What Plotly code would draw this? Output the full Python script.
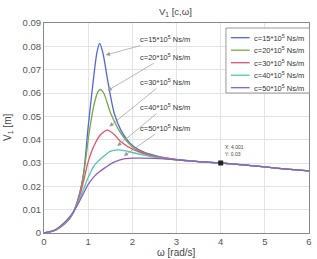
import plotly.graph_objects as go

# ---------------- data ----------------
labels = ["c=15*10<sup>5</sup> Ns/m", "c=20*10<sup>5</sup> Ns/m", "c=30*10<sup>5</sup> Ns/m",
          "c=40*10<sup>5</sup> Ns/m", "c=50*10<sup>5</sup> Ns/m"]
colors = ["#5466d6", "#74aa48", "#e8506a", "#4fc8b2", "#8b5fc6"]

w_c15 = [0, 0.25, 0.5, 0.65, 0.8, 0.9, 1.0, 1.1, 1.2, 1.26, 1.33, 1.44, 1.59, 1.74, 1.9, 2.04, 2.25, 2.48, 2.75, 3.0, 3.5, 4.0, 4.5, 5.0, 5.5, 6.0]
v_c15 = [0, 0.0011, 0.0045, 0.0082, 0.0165, 0.026, 0.0455, 0.0627, 0.0775, 0.0813, 0.0775, 0.0656, 0.0513, 0.0441, 0.0395, 0.0370, 0.0348, 0.0334, 0.0322, 0.0314, 0.0306, 0.0300, 0.0292, 0.0283, 0.0274, 0.0266]

w_c20 = [0, 0.25, 0.5, 0.65, 0.8, 0.9, 1.03, 1.14, 1.22, 1.27, 1.35, 1.51, 1.74, 2.04, 2.48, 3.0, 3.5, 4.0, 4.5, 5.0, 5.5, 6.0]
v_c20 = [0, 0.0011, 0.0046, 0.0083, 0.0162, 0.0255, 0.044, 0.0556, 0.0605, 0.0615, 0.0600, 0.0513, 0.0427, 0.0363, 0.0330, 0.0314, 0.0306, 0.0300, 0.0292, 0.0283, 0.0274, 0.0266]

w_c30 = [0, 0.25, 0.5, 0.65, 0.8, 0.9, 1.0, 1.14, 1.3, 1.44, 1.6, 1.74, 2.04, 2.48, 3.0, 3.5, 4.0, 4.5, 5.0, 5.5, 6.0]
v_c30 = [0, 0.0012, 0.0048, 0.0084, 0.0155, 0.0225, 0.0305, 0.0377, 0.0425, 0.0441, 0.0420, 0.0391, 0.0356, 0.0329, 0.0315, 0.0306, 0.0300, 0.0292, 0.0283, 0.0274, 0.0266]

w_c40 = [0, 0.25, 0.5, 0.65, 0.8, 0.9, 1.0, 1.14, 1.36, 1.5, 1.66, 1.85, 2.0, 2.26, 2.6, 3.0, 3.5, 4.0, 4.5, 5.0, 5.5, 6.0]
v_c40 = [0, 0.0013, 0.0050, 0.0085, 0.0145, 0.019, 0.0238, 0.0290, 0.0330, 0.0350, 0.0356, 0.0352, 0.0345, 0.0334, 0.0322, 0.0313, 0.0306, 0.0300, 0.0292, 0.0283, 0.0274, 0.0266]

w_c50 = [0, 0.25, 0.5, 0.65, 0.8, 0.9, 1.0, 1.15, 1.36, 1.6, 1.81, 2.0, 2.2, 2.63, 3.0, 3.5, 4.0, 4.5, 5.0, 5.5, 6.0]
v_c50 = [0, 0.0014, 0.0052, 0.0086, 0.0135, 0.0172, 0.0208, 0.0245, 0.0277, 0.0305, 0.0318, 0.0321, 0.0321, 0.0319, 0.0313, 0.0306, 0.0300, 0.0292, 0.0283, 0.0274, 0.0266]

series_w = [w_c15, w_c20, w_c30, w_c40, w_c50]
series_v = [v_c15, v_c20, v_c30, v_c40, v_c50]

# arrow tips on curves and label positions (data units)
tip_w = [1.40, 1.44, 1.48, 1.66, 1.81]
tip_v = [0.0763, 0.0610, 0.0456, 0.0373, 0.0330]
lab_w = [2.73, 2.73, 2.73, 2.73, 2.73]
lab_v = [0.0831, 0.0755, 0.0648, 0.0540, 0.0452]

tip_x = [4.001]
tip_y = [0.03]

x_ticks = [0, 1, 2, 3, 4, 5, 6]
y_ticks = [0, 0.01, 0.02, 0.03, 0.04, 0.05, 0.06, 0.07, 0.08, 0.09]
y_ticklabels = ["0", "0.01", "0.02", "0.03", "0.04", "0.05", "0.06", "0.07", "0.08", "0.09"]

FONT = "Liberation Sans, Arial, sans-serif"

fig = go.Figure()
for w, v, c, name in zip(series_w, series_v, colors, labels):
    fig.add_trace(go.Scatter(x=w, y=v, mode="lines", name=name,
                             line=dict(color=c, width=1.3, shape="spline", smoothing=0.8),
                             showlegend=False, hoverinfo="skip"))

fig.add_trace(go.Scatter(x=tip_x, y=tip_y, mode="markers",
                         marker=dict(symbol="square", size=5, color="#222"),
                         showlegend=False, hoverinfo="skip"))

annotations = []
for tw, tv, lw, lv, lab in zip(tip_w, tip_v, lab_w, lab_v, labels):
    annotations.append(dict(x=tw, y=tv, xref="x", yref="y", ax=lw, ay=lv, axref="x", ayref="y",
                            text=lab, showarrow=True, arrowhead=2, arrowsize=1.2, arrowwidth=0.7,
                            arrowcolor="#9a9a9a", font=dict(family=FONT, size=7.5, color="#333")))

annotations.append(dict(x=tip_x[0], y=tip_y[0], xref="x", yref="y", xanchor="left", yanchor="bottom",
                        xshift=2, yshift=4, showarrow=False, align="left",
                        text="X: %g<br>Y: %g" % (tip_x[0], tip_y[0]),
                        font=dict(family=FONT, size=5, color="#444")))

# manual legend (paper coords)
shapes = [dict(type="rect", xref="paper", yref="paper", x0=(228 - 44) / 268, x1=(312.5 - 44) / 268,
               y0=(233 - 93) / 210, y1=(233 - 28) / 210, line=dict(color="#999", width=1),
               fillcolor="white", layer="above")]
leg_y = [37.7, 50.2, 62.7, 75.2, 87.7]
for py, c, lab in zip(leg_y, colors, labels):
    yy = (233 - py) / 210
    shapes.append(dict(type="line", xref="paper", yref="paper", x0=(233 - 44) / 268, x1=(252 - 44) / 268,
                       y0=yy, y1=yy, line=dict(color=c, width=1.3), layer="above"))
    annotations.append(dict(x=(254 - 44) / 268, y=yy, xref="paper", yref="paper", xanchor="left",
                            yanchor="middle", showarrow=False, text=lab,
                            font=dict(family=FONT, size=7.5, color="#333")))

# title and axis titles
annotations.append(dict(x=(177 - 44) / 268, y=1, xref="paper", yref="paper", yanchor="bottom", yshift=3,
                        showarrow=False, text="V<sub>1</sub> [c,\u03c9]",
                        font=dict(family=FONT, size=9.5, color="#444")))
annotations.append(dict(x=(178 - 44) / 268, y=0, xref="paper", yref="paper", yanchor="top", yshift=-12,
                        showarrow=False, text="\u03c9 [rad/s]",
                        font=dict(family=FONT, size=10, color="#444")))
annotations.append(dict(x=0, y=0.5, xref="paper", yref="paper", xanchor="center", xshift=-36,
                        showarrow=False, textangle=-90, text="V<sub>1</sub> [m]",
                        font=dict(family=FONT, size=10, color="#444")))

fig.update_layout(
    width=317, height=259,
    margin=dict(l=44, r=5, t=23, b=26),
    paper_bgcolor="white", plot_bgcolor="white",
    font=dict(family=FONT, color="#555"),
    annotations=annotations, shapes=shapes,
    showlegend=False,
)
fig.update_xaxes(range=[0, 6], tickvals=x_ticks, showgrid=True, gridcolor="#e3e3e3", gridwidth=1,
                 showline=True, mirror=True, linecolor="#888", linewidth=1, zeroline=False,
                 ticks="", tickfont=dict(size=9.5, color="#555"), ticklabelstandoff=0)
fig.update_yaxes(range=[0, 0.09], tickvals=y_ticks, ticktext=y_ticklabels, showgrid=True,
                 gridcolor="#e3e3e3", gridwidth=1, showline=True, mirror=True, linecolor="#888",
                 linewidth=1, zeroline=False, ticks="", tickfont=dict(size=9.5, color="#555"))

fig.write_html("out.html")
